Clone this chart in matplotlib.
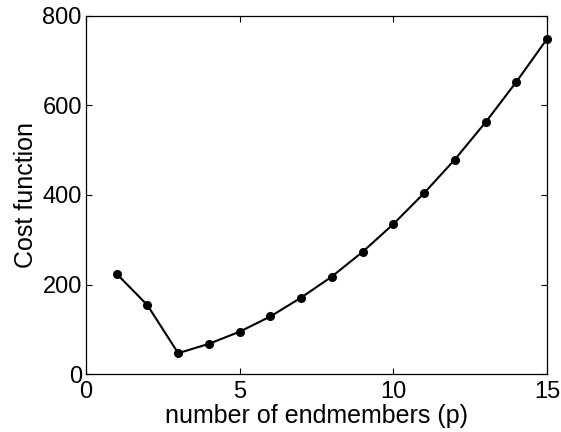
import numpy as np
import matplotlib.pyplot as plt

plt.rcParams['font.family'] = ['Liberation Sans', 'DejaVu Sans']

# number of endmembers and the cost at each
p = [1, 2, 3, 4, 5, 6, 7, 8, 9, 10, 11, 12, 13, 14, 15]
cost = [224, 154, 47, 68, 95, 129, 171, 218, 273, 335, 404, 479, 562, 652, 748]

fig = plt.figure(figsize=(5.61, 4.32), dpi=100)
ax = fig.add_axes([0.1533, 0.1336, 0.8217, 0.8301])

ax.plot(p, cost, '-', color='black', linewidth=1.5, marker='o', markersize=5.5,
        clip_on=False, zorder=3)

ax.set_xlim(0, 15)
ax.set_ylim(0, 800)
ax.set_xticks([0, 5, 10, 15])
ax.set_yticks([0, 200, 400, 600, 800])
ax.tick_params(direction='in', top=True, right=True, length=4, width=0.8,
               labelsize=17)
ax.tick_params(axis='x', pad=5)
ax.tick_params(axis='y', pad=3)
for s in ax.spines.values():
    s.set_linewidth(0.9)

ax.set_xlabel('number of endmembers (p)', fontsize=18, labelpad=0.5)
ax.set_ylabel('Cost function', fontsize=18, labelpad=3)

fig.savefig('out.png', dpi=100)
